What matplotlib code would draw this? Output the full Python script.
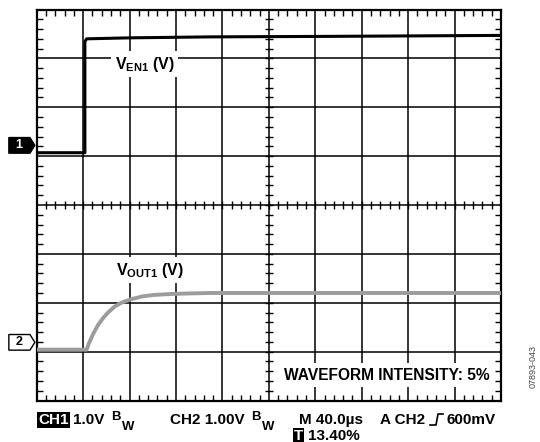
import matplotlib
matplotlib.use("Agg")
import matplotlib.pyplot as plt
from matplotlib.patches import Polygon
from matplotlib.lines import Line2D
import numpy as np

plt.rcParams['font.family'] = ['Liberation Sans', 'DejaVu Sans']
plt.rcParams['font.weight'] = 'bold'
plt.rcParams['mathtext.fontset'] = 'custom'
plt.rcParams['mathtext.rm'] = 'Liberation Sans:bold'
plt.rcParams['mathtext.it'] = 'Liberation Sans:bold'
plt.rcParams['mathtext.bf'] = 'Liberation Sans:bold'

# time in us (40 us/div), level in screen divisions (1 V/div)
en1_t = [0, 41.5, 41.5, 43, 80, 150, 250, 400]
en1_v = [1.07, 1.07, 3.34, 3.40, 3.42, 3.44, 3.45, 3.47]

out1_t = [0, 43, 45, 49, 53, 57, 61, 67, 73, 81, 91, 101, 116, 131, 150, 400]
out1_v = [-2.96, -2.96, -2.83, -2.62, -2.45, -2.32, -2.21, -2.08, -2.00,
          -1.93, -1.87, -1.84, -1.82, -1.81, -1.80, -1.80]

ch1_gnd = 1.07
ch2_gnd = -2.96

W, H = 540, 442
fig = plt.figure(figsize=(W / 100, H / 100), dpi=100)
ax = fig.add_axes([36.7 / W, 1 - 400.5 / H, 464.3 / W, 391 / H])
ax.set_xlim(0, 400)
ax.set_ylim(-4, 4)

# scope graticule
ax.set_xticks(np.arange(0, 401, 40))
ax.set_yticks(np.arange(-4, 5, 1))
ax.set_xticks(np.arange(0, 401, 8), minor=True)
ax.set_yticks(np.arange(-4, 4.01, 0.2), minor=True)
ax.tick_params(which='major', length=0, labelbottom=False, labelleft=False)
ax.tick_params(which='minor', direction='in', length=4, width=1,
               top=True, right=True, color='black')
ax.grid(True, which='major', color='black', lw=1.1)
for s in ax.spines.values():
    s.set_linewidth(1.6)

# ticks on the centre cross
cx = np.arange(8, 400, 8)
ax.vlines(cx, -0.08, 0.08, color='black', lw=1)
cy = np.arange(-3.8, 3.81, 0.2)
ax.hlines(cy, 196.5, 203.5, color='black', lw=1)

ax.plot(en1_t, en1_v, color='black', lw=2.2, zorder=3)
ax.plot(out1_t, out1_v, color='#9c9c9c', lw=2.8, zorder=3)

ax.text(93, 2.88, r'$V_{EN1}$ (V)', ha='center', va='center', fontsize=11.5,
        bbox=dict(fc='white', ec='none', pad=2.5), zorder=4)
ax.text(98, -1.33, r'$V_{OUT1}$ (V)', ha='center', va='center', fontsize=11.5,
        bbox=dict(fc='white', ec='none', pad=2.5), zorder=4)
ax.text(302, -3.48, 'WAVEFORM INTENSITY: 5%', ha='center', va='center',
        fontsize=11.2, bbox=dict(fc='white', ec='none', pad=3.5), zorder=4)

# channel ground markers
tr = ax.get_yaxis_transform()
def gnd_marker(level, label, face, txt):
    y0 = level + 0.15
    h = 0.16
    pts = [(-0.060, y0 - h), (-0.0145, y0 - h), (-0.004, y0),
           (-0.0145, y0 + h), (-0.060, y0 + h)]
    ax.add_patch(Polygon(pts, closed=True, transform=tr, fc=face,
                         ec='black', lw=1, clip_on=False, zorder=5))
    ax.text(-0.038, y0, label, transform=tr, ha='center', va='center',
            fontsize=9, color=txt, clip_on=False, zorder=6)

gnd_marker(ch1_gnd, '1', 'black', 'white')
gnd_marker(ch2_gnd, '2', 'white', 'black')

# readout line
def ftxt(x, y, s, **kw):
    kw.setdefault('fontsize', 11)
    return fig.text(x / W, 1 - y / H, s, va='center', **kw)

bw = r'${}^{B}{}_{W}$'
ftxt(38, 420, 'CH1', color='white',
     bbox=dict(fc='black', ec='none', pad=1.0))
ftxt(73, 420, '1.0V')
ftxt(111, 421, bw, fontsize=13.5)
ftxt(170, 420, 'CH2 1.00V')
ftxt(251, 421, bw, fontsize=13.5)
ftxt(299, 420, 'M 40.0\u00b5s')
ftxt(380, 420, 'A CH2')
ftxt(447, 420, '600mV')
ftxt(294, 436, 'T', color='white', bbox=dict(fc='black', ec='none', pad=0.9))
ftxt(308, 436, '13.40%')

# rising-edge trigger symbol
sx = np.array([430, 436, 438, 443]) / W
sy = 1 - np.array([425, 425, 414, 414]) / H
fig.add_artist(Line2D(sx, sy, color='black', lw=1.2, transform=fig.transFigure))

fig.text(533 / W, 1 - 366 / H, '07893-043', rotation=90, ha='center',
         va='center', fontsize=6.5, fontweight='normal', color='#444444')

fig.savefig('out.png', dpi=100)
